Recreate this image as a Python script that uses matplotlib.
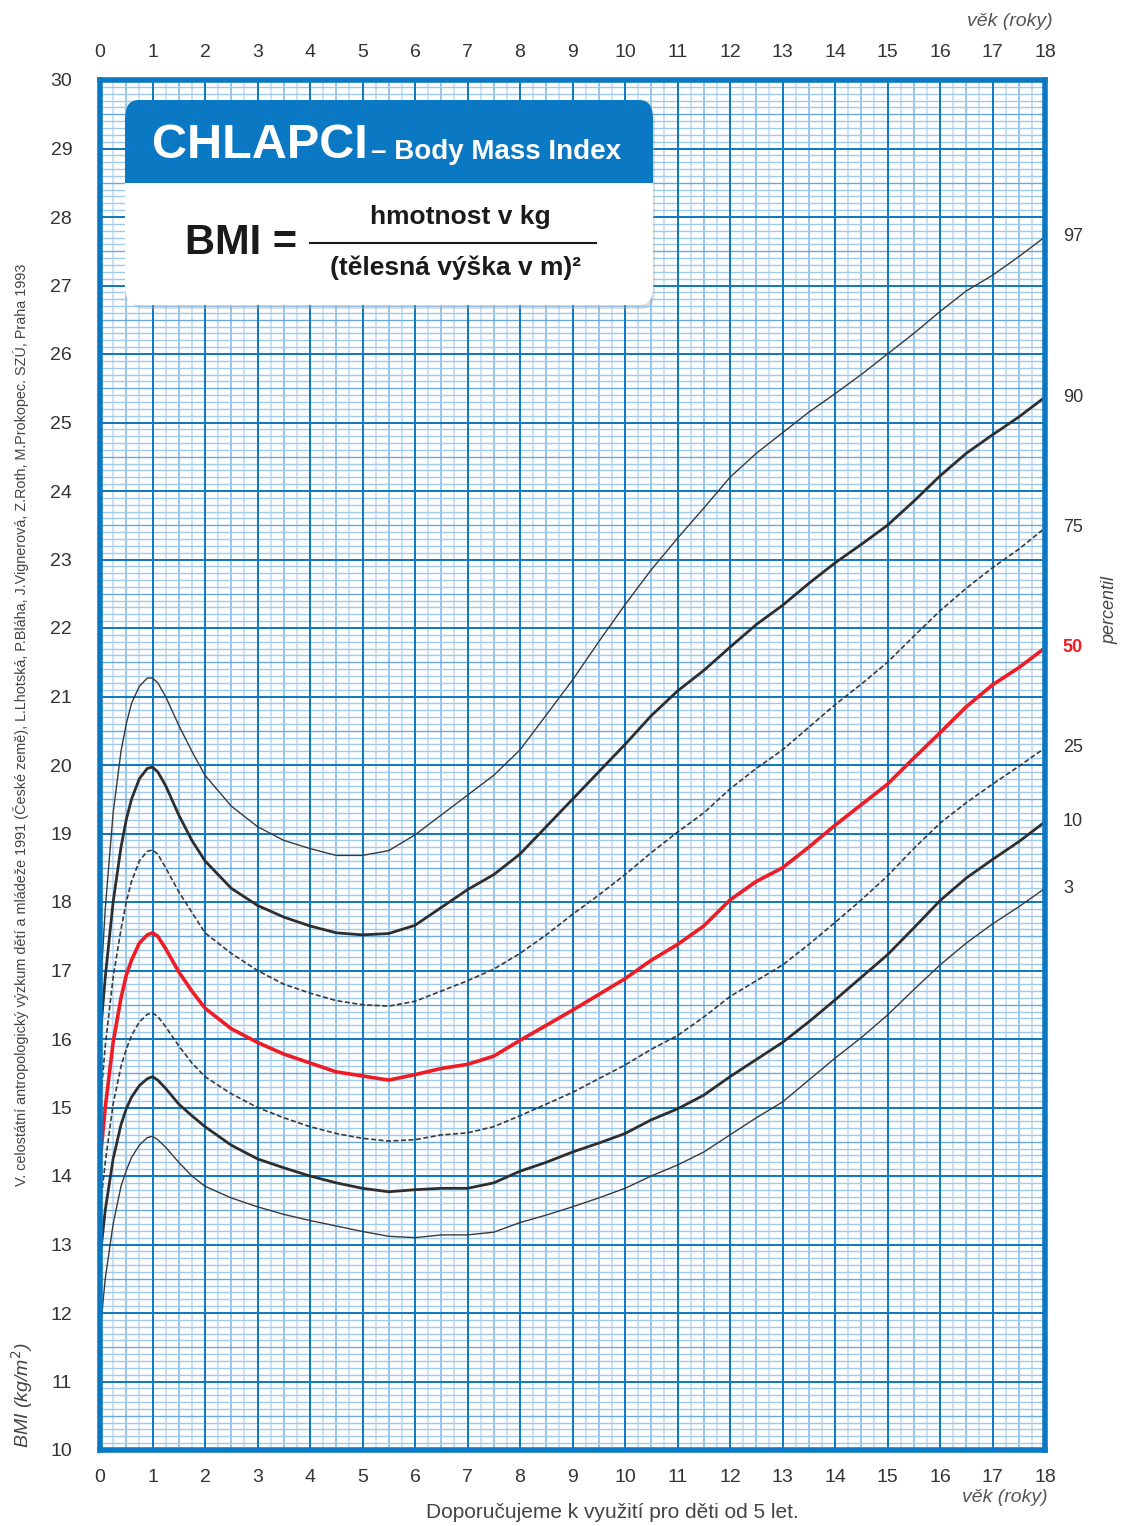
import numpy as np
import matplotlib
matplotlib.use("Agg")
import matplotlib.pyplot as plt
from matplotlib.patches import FancyBboxPatch, Rectangle

plt.rcParams['font.family'] = ['Liberation Sans', 'DejaVu Sans']

# Age (years) and BMI percentile curves (kg/m^2)
ages = [0, 0.1, 0.25, 0.4, 0.5, 0.6, 0.75, 0.9, 1, 1.1, 1.25, 1.5, 1.75, 2,
        2.5, 3, 3.5, 4, 4.5, 5, 5.5, 6, 6.5, 7, 7.5, 8, 8.5, 9, 9.5, 10,
        10.5, 11, 11.5, 12, 12.5, 13, 13.5, 14, 14.5, 15, 15.5, 16, 16.5, 17, 17.5, 18]
p97 = [16.6, 17.9, 19.3, 20.2, 20.6, 20.9, 21.15, 21.27, 21.27, 21.2, 21.0, 20.58, 20.2, 19.85,
       19.4, 19.1, 18.9, 18.78, 18.68, 18.68, 18.75, 18.98, 19.27, 19.56, 19.85, 20.22, 20.73,
       21.24, 21.8, 22.34, 22.85, 23.31, 23.75, 24.2, 24.55, 24.85, 25.15, 25.42, 25.7, 26.0,
       26.3, 26.62, 26.92, 27.15, 27.42, 27.71]
p90 = [16.0, 16.9, 18.0, 18.8, 19.2, 19.5, 19.8, 19.95, 19.97, 19.9, 19.7, 19.27, 18.9, 18.6,
       18.2, 17.95, 17.78, 17.65, 17.55, 17.52, 17.54, 17.66, 17.92, 18.18, 18.4, 18.7, 19.1,
       19.5, 19.9, 20.3, 20.72, 21.08, 21.38, 21.72, 22.05, 22.33, 22.65, 22.95, 23.22, 23.5,
       23.85, 24.22, 24.55, 24.82, 25.08, 25.37]
p75 = [15.0, 15.9, 16.9, 17.6, 18.0, 18.3, 18.6, 18.74, 18.76, 18.7, 18.5, 18.15, 17.85, 17.55,
       17.25, 17.0, 16.8, 16.67, 16.56, 16.5, 16.48, 16.55, 16.7, 16.85, 17.02, 17.25, 17.52,
       17.82, 18.1, 18.4, 18.72, 19.02, 19.3, 19.65, 19.95, 20.22, 20.55, 20.88, 21.18, 21.5,
       21.88, 22.25, 22.58, 22.88, 23.15, 23.46]
p50 = [14.2, 15.0, 15.95, 16.6, 16.93, 17.15, 17.4, 17.52, 17.55, 17.5, 17.32, 16.98, 16.7, 16.45,
       16.15, 15.95, 15.78, 15.65, 15.52, 15.46, 15.4, 15.48, 15.57, 15.63, 15.75, 15.98, 16.2,
       16.42, 16.65, 16.88, 17.15, 17.38, 17.65, 18.03, 18.3, 18.5, 18.8, 19.12, 19.42, 19.72,
       20.1, 20.47, 20.85, 21.17, 21.42, 21.71]
p25 = [13.5, 14.2, 15.05, 15.6, 15.85, 16.05, 16.25, 16.36, 16.38, 16.33, 16.18, 15.9, 15.65, 15.45,
       15.2, 15.0, 14.85, 14.72, 14.62, 14.55, 14.51, 14.53, 14.6, 14.63, 14.72, 14.88, 15.05,
       15.22, 15.42, 15.62, 15.85, 16.05, 16.32, 16.62, 16.85, 17.08, 17.38, 17.7, 18.03, 18.38,
       18.78, 19.15, 19.45, 19.72, 19.98, 20.25]
p10 = [12.8, 13.5, 14.25, 14.75, 14.98, 15.15, 15.32, 15.42, 15.45, 15.4, 15.28, 15.05, 14.88, 14.72,
       14.45, 14.25, 14.12, 14.0, 13.9, 13.82, 13.77, 13.8, 13.82, 13.82, 13.9, 14.07, 14.2,
       14.35, 14.48, 14.62, 14.82, 14.98, 15.18, 15.45, 15.7, 15.95, 16.25, 16.57, 16.9, 17.23,
       17.62, 18.02, 18.35, 18.62, 18.88, 19.17]
p3 = [11.7, 12.5, 13.3, 13.85, 14.08, 14.27, 14.45, 14.56, 14.58, 14.53, 14.42, 14.2, 14.0, 13.85,
      13.68, 13.55, 13.44, 13.35, 13.27, 13.19, 13.12, 13.1, 13.14, 13.14, 13.18, 13.32, 13.43,
      13.55, 13.68, 13.82, 14.0, 14.16, 14.35, 14.6, 14.85, 15.08, 15.4, 15.72, 16.02, 16.35,
      16.72, 17.08, 17.4, 17.68, 17.93, 18.2]

percentile_labels = ["97", "90", "75", "50", "25", "10", "3"]
age_ticks = list(range(0, 19))
bmi_ticks = list(range(10, 31))

BLUE = "#0a78c2"
TXT = "#333333"

W, H = 1130, 1526
fig = plt.figure(figsize=(W / 100, H / 100), dpi=100)
ax = fig.add_axes([100 / W, 1 - 1450 / H, 945 / W, 1370 / H])
ax.set_xlim(0, 18)
ax.set_ylim(10, 30)

# millimetre-paper grid
for xv in np.arange(0, 18.001, 0.25):
    if abs(xv - round(xv)) < 1e-6:
        continue
    half = abs(xv * 2 - round(xv * 2)) < 1e-6
    ax.axvline(xv, color="#86bbe4" if half else "#c2ddf2", lw=1.2, zorder=1)
for yv in np.arange(10, 30.001, 0.1):
    if abs(yv - round(yv)) < 1e-6:
        continue
    half = abs(yv * 2 - round(yv * 2)) < 1e-6
    ax.axhline(yv, color="#6aa9dc" if half else "#9fcaee", lw=1.0, zorder=1)
for xv in age_ticks:
    ax.axvline(xv, color=BLUE, lw=1.4, zorder=2)
for yv in bmi_ticks:
    ax.axhline(yv, color=BLUE, lw=1.4, zorder=2)

for s in ax.spines.values():
    s.set_color(BLUE)
    s.set_linewidth(4.0)
    s.set_zorder(10)

# percentile curves
curves = [p97, p90, p75, p50, p25, p10, p3]
styles = [
    dict(color="#3a3a3a", lw=1.0, ls="-"),
    dict(color="#2e2e2e", lw=2.0, ls="-"),
    dict(color="#3a3a3a", lw=1.2, ls=(0, (3, 1.5))),
    dict(color="#ee1c25", lw=2.6, ls="-"),
    dict(color="#3a3a3a", lw=1.2, ls=(0, (3, 1.5))),
    dict(color="#2e2e2e", lw=2.0, ls="-"),
    dict(color="#3a3a3a", lw=1.0, ls="-"),
]
for vals, st in zip(curves, styles):
    ax.plot(ages, vals, color=st["color"], lw=st["lw"], ls=st["ls"],
            solid_capstyle="round", solid_joinstyle="round", zorder=5)

# percentile labels at the right end of each curve
for vals, lab in zip(curves, percentile_labels):
    red = lab == "50"
    ax.text(18.34, vals[-1], lab, ha="left", va="center", fontsize=13,
            color="#ee1c25" if red else TXT, fontweight="bold" if red else "normal",
            clip_on=False)
fig.text(1110 / W, 1 - 610 / H, "percentil", rotation=90,
         ha="center", va="center", fontsize=13, style="italic", color="#444444")

# tick labels
ax.set_xticks(age_ticks)
ax.set_yticks(bmi_ticks)
ax.tick_params(axis="both", length=0, labelsize=14, colors=TXT)
ax.tick_params(axis="x", top=True, labeltop=True, pad=14)
ax.tick_params(axis="y", pad=20)

fig.text(1010 / W, 1 - 22 / H, "věk (roky)", ha="center", va="center",
         fontsize=14, style="italic", color="#555555")
fig.text(1005 / W, 1 - 1497 / H, "věk (roky)", ha="center", va="center",
         fontsize=14, style="italic", color="#555555")
fig.text(22 / W, 1 - 1395 / H, "BMI (kg/m$^2$)", ha="center", va="center",
         rotation=90, fontsize=14, style="italic", color="#444444")
fig.text(612 / W, 1 - 1512 / H, "Doporučujeme k využití pro děti od 5 let.",
         ha="center", va="center", fontsize=15, color="#444444")
fig.text(21 / W, 1 - 725 / H,
         "V. celostátní antropologický výzkum dětí a mládeže 1991 (České země), "
         "L.Lhotská, P.Bláha, J.Vignerová, Z.Roth, M.Prokopec. SZÚ, Praha 1993",
         ha="center", va="center", rotation=90, fontsize=10.4, color="#444444")


# title card with the BMI formula
def fx(px):
    return px / W


def fy(py):
    return 1 - py / H


shadow = FancyBboxPatch((fx(130), fy(309)), fx(655) - fx(130), fy(104) - fy(309),
                        boxstyle="round,pad=0,rounding_size=0.012",
                        transform=fig.transFigure, facecolor="#9aa8b5", alpha=0.35,
                        edgecolor="none", zorder=20)
fig.patches.append(shadow)
card = FancyBboxPatch((fx(125), fy(305)), fx(653) - fx(125), fy(100) - fy(305),
                      boxstyle="round,pad=0,rounding_size=0.012",
                      transform=fig.transFigure, facecolor="white",
                      edgecolor="none", zorder=21)
fig.patches.append(card)
header = FancyBboxPatch((fx(125), fy(183)), fx(653) - fx(125), fy(100) - fy(183),
                        boxstyle="round,pad=0,rounding_size=0.012",
                        transform=fig.transFigure, facecolor=BLUE,
                        edgecolor="none", zorder=22)
fig.patches.append(header)
header_base = Rectangle((fx(125), fy(183)), fx(653) - fx(125), fy(150) - fy(183),
                        transform=fig.transFigure, facecolor=BLUE,
                        edgecolor="none", zorder=22)
fig.patches.append(header_base)

fig.text(fx(152), fy(145), "CHLAPCI", ha="left", va="center", fontsize=35,
         fontweight="bold", color="white", zorder=30)
fig.text(fx(371), fy(152), "– Body Mass Index", ha="left", va="center", fontsize=20,
         fontweight="bold", color="white", zorder=30)
fig.text(fx(185), fy(243), "BMI =", ha="left", va="center", fontsize=30,
         fontweight="bold", color="#1a1a1a", zorder=30)
fig.text(fx(460), fy(217), "hmotnost v kg", ha="center", va="center", fontsize=19,
         fontweight="bold", color="#1a1a1a", zorder=30)
fig.text(fx(455), fy(268), "(tělesná výška v m)²", ha="center", va="center",
         fontsize=19, fontweight="bold", color="#1a1a1a", zorder=30)
fig.add_artist(plt.Line2D([fx(310), fx(596)], [fy(243), fy(243)],
                          transform=fig.transFigure, color="#1a1a1a", lw=1.5,
                          zorder=30))

fig.savefig("out.png", dpi=100, facecolor="white")
